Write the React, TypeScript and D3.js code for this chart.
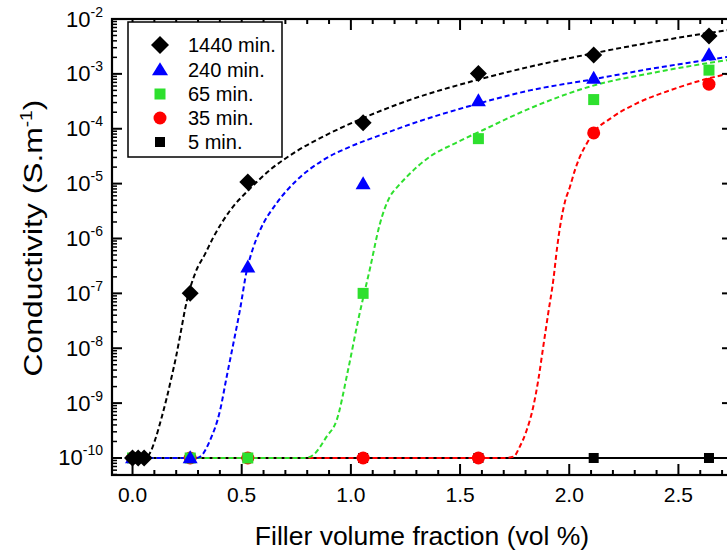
import React from "react";
import * as d3 from "d3";

// ---------- data ----------
const seriesLabels = ["1440 min.", "240 min.", "65 min.", "35 min.", "5 min."];

// measured points
const x1440 = [0, 0.026, 0.053, 0.264, 0.528, 1.056, 1.584, 2.112, 2.64];
const y1440 = [1e-10, 1e-10, 1e-10, 1.0e-7, 1.07e-5, 1.28e-4, 1.02e-3, 2.2e-3, 4.9e-3];
const xMain = [0, 0.264, 0.528, 1.056, 1.584, 2.112, 2.64];
const y240 = [1e-10, 1e-10, 3.0e-7, 9.8e-6, 3.2e-4, 8.2e-4, 2.2e-3];
const y65 = [1e-10, 1e-10, 1e-10, 1.0e-7, 6.6e-5, 3.4e-4, 1.17e-3];
const y35 = [1e-10, 1e-10, 1e-10, 1e-10, 1e-10, 8.4e-5, 6.5e-4];
const y5 = [1e-10, 1e-10, 1e-10, 1e-10, 1e-10, 1e-10, 1e-10];

// fitted (dashed) curves
const fitX1440 = [0, 0.057, 0.08, 0.105, 0.134, 0.157, 0.179, 0.2, 0.217, 0.248, 0.29, 0.332, 0.37, 0.446, 0.538, 0.63, 0.752, 0.904, 1.042, 1.284, 1.559, 1.82, 2.103, 2.383, 2.75];
const fitY1440 = [1e-10, 1e-10, 1.23e-10, 2.24e-10, 5.6e-10, 1.26e-9, 3.0e-9, 7.2e-9, 1.62e-8, 7.1e-8, 2.5e-7, 5.2e-7, 1.05e-6, 3.2e-6, 8.1e-6, 1.78e-5, 3.9e-5, 8.3e-5, 1.48e-4, 3.5e-4, 7.4e-4, 1.35e-3, 2.34e-3, 3.8e-3, 6.5e-3];
const fitX240 = [0, 0.29, 0.309, 0.355, 0.401, 0.431, 0.462, 0.492, 0.523, 0.55, 0.584, 0.66, 0.752, 0.874, 0.996, 1.133, 1.286, 1.545, 1.82, 2.103, 2.385, 2.75];
const fitY240 = [1e-10, 1e-10, 1.05e-10, 2.1e-10, 7.4e-10, 3.0e-9, 1.23e-8, 5.0e-8, 2.6e-7, 6.3e-7, 1.41e-6, 4.4e-6, 1.15e-5, 2.7e-5, 4.7e-5, 7.6e-5, 1.26e-4, 2.6e-4, 5.0e-4, 7.9e-4, 1.26e-3, 2.1e-3];
const fitX65 = [0, 0.79, 0.826, 0.889, 0.935, 0.987, 1.033, 1.088, 1.133, 1.156, 1.179, 1.216, 1.255, 1.307, 1.362, 1.484, 1.606, 1.82, 2.103, 2.385, 2.75];
const fitY65 = [1e-10, 1e-10, 1.12e-10, 2.45e-10, 4.9e-10, 4.0e-9, 3.2e-8, 2.9e-7, 1.86e-6, 3.6e-6, 5.8e-6, 9.0e-6, 1.32e-5, 2.08e-5, 3.1e-5, 5.6e-5, 9.5e-5, 2.35e-4, 6.0e-4, 1.05e-3, 1.85e-3];
const fitX35 = [0, 1.70, 1.744, 1.774, 1.805, 1.835, 1.858, 1.881, 1.904, 1.927, 1.945, 1.959, 1.98, 2.003, 2.026, 2.049, 2.076, 2.103, 2.201, 2.309, 2.461, 2.614, 2.75];
const fitY35 = [1e-10, 1e-10, 1.05e-10, 1.62e-10, 3.2e-10, 8.5e-10, 2.6e-9, 1.07e-8, 4.4e-8, 1.74e-7, 7.1e-7, 1.74e-6, 4.6e-6, 8.7e-6, 1.76e-5, 3.1e-5, 5.0e-5, 7.6e-5, 1.66e-4, 2.9e-4, 5.0e-4, 7.8e-4, 1.05e-3];
const baseX = [0, 2.75];
const baseY = [1e-10, 1e-10];

const xMajorTicks = [0, 0.5, 1.0, 1.5, 2.0, 2.5];
const xTickLabels = ["0.0", "0.5", "1.0", "1.5", "2.0", "2.5"];
const xMinorTicks = [0.1, 0.2, 0.3, 0.4, 0.6, 0.7, 0.8, 0.9, 1.1, 1.2, 1.3, 1.4, 1.6, 1.7, 1.8, 1.9, 2.1, 2.2, 2.3, 2.4, 2.6, 2.7];
const yExponents = [-2, -3, -4, -5, -6, -7, -8, -9, -10];

const FONT = "'Liberation Sans', Arial, Helvetica, sans-serif";
const GREEN = "#2ee02e";
const BLUE = "#0000ff";
const RED = "#ff0000";

export default function App() {
  const W = 727, H = 555;
  const left = 112, top = 19, right = 733, bottom = 475;
  const x = d3.scaleLinear().domain([-0.094, 2.75]).range([left, right]);
  const y = d3.scaleLog().domain([Math.pow(10, -10.31), 1e-2]).range([bottom, top]);

  const line = d3
    .line<[number, number]>()
    .x((d) => x(d[0]))
    .y((d) => y(d[1]))
    .curve(d3.curveMonotoneX);
  const zip = (a: number[], b: number[]) => a.map((v, i) => [v, b[i]] as [number, number]);

  const yMinor: number[] = [];
  for (let e = -11; e <= -3; e++) {
    for (let k = 2; k <= 9; k++) {
      const v = k * Math.pow(10, e);
      if (v > Math.pow(10, -10.31) && v < 1e-2) yMinor.push(v);
    }
  }

  const diamond = (cx: number, cy: number, r: number, key?: any) => (
    <path key={key} d={`M${cx},${cy - r}L${cx + r},${cy}L${cx},${cy + r}L${cx - r},${cy}Z`} fill="#000" />
  );
  const triangle = (cx: number, cy: number, w: number, h: number, key?: any) => (
    <path key={key} d={`M${cx},${cy - h * 0.6}L${cx + w / 2},${cy + h * 0.4}L${cx - w / 2},${cy + h * 0.4}Z`} fill={BLUE} />
  );
  const square = (cx: number, cy: number, s: number, fill: string, key?: any) => (
    <rect key={key} x={cx - s / 2} y={cy - s / 2} width={s} height={s} fill={fill} />
  );

  const dash = "5,3";
  const legendY = [45, 70, 94, 118, 142];

  return (
    <svg width={W} height={H} style={{ position: "absolute", left: 0, top: 0, background: "#fff" }} fontFamily={FONT}>
      <defs>
        <clipPath id="plotclip">
          <rect x={left} y={top} width={right - left} height={bottom - top} />
        </clipPath>
      </defs>
      <rect x={0} y={0} width={W} height={H} fill="#fff" />

      <g clipPath="url(#plotclip)">
        <path d={line(zip(baseX, baseY)) || ""} fill="none" stroke="#000" strokeWidth={2} />
        <path d={line(zip(fitX35, fitY35)) || ""} fill="none" stroke={RED} strokeWidth={2} strokeDasharray={dash} />
        <path d={line(zip(fitX65, fitY65)) || ""} fill="none" stroke={GREEN} strokeWidth={2} strokeDasharray={dash} />
        <path d={line(zip(fitX240, fitY240)) || ""} fill="none" stroke={BLUE} strokeWidth={2} strokeDasharray={dash} />
        <path d={line(zip(fitX1440, fitY1440)) || ""} fill="none" stroke="#000" strokeWidth={2} strokeDasharray={dash} />

        {xMain.map((v, i) => square(x(v), y(y5[i]), 10, "#000", "s5" + i))}
        {xMain.map((v, i) => (
          <circle key={"c35" + i} cx={x(v)} cy={y(y35[i])} r={6.5} fill={RED} />
        ))}
        {xMain.map((v, i) => square(x(v), y(y65[i]), 11, GREEN, "s65" + i))}
        {xMain.map((v, i) => triangle(x(v), y(y240[i]), 15, 13, "t" + i))}
        {x1440.map((v, i) => diamond(x(v), y(y1440[i]), 8.5, "d" + i))}
      </g>

      {/* frame */}
      <rect x={left} y={top} width={right - left} height={bottom - top} fill="none" stroke="#000" strokeWidth={2.2} />

      {/* x ticks bottom/top */}
      {xMajorTicks.map((v) => (
        <g key={"xm" + v}>
          <line x1={x(v)} x2={x(v)} y1={bottom} y2={bottom - 11} stroke="#000" strokeWidth={2} />
          <line x1={x(v)} x2={x(v)} y1={top} y2={top + 11} stroke="#000" strokeWidth={2} />
        </g>
      ))}
      {xMinorTicks.map((v) => (
        <g key={"xn" + v}>
          <line x1={x(v)} x2={x(v)} y1={bottom} y2={bottom - 5} stroke="#000" strokeWidth={2} />
          <line x1={x(v)} x2={x(v)} y1={top} y2={top + 5} stroke="#000" strokeWidth={2} />
        </g>
      ))}
      {xMajorTicks.map((v, i) => (
        <text key={"xl" + v} x={x(v)} y={502} textAnchor="middle" fontSize={21} fill="#000">
          {xTickLabels[i]}
        </text>
      ))}

      {/* y ticks left/right */}
      {yExponents.map((e) => {
        const v = Math.pow(10, e);
        return (
          <g key={"ym" + e}>
            <line x1={left} x2={left + 10} y1={y(v)} y2={y(v)} stroke="#000" strokeWidth={2} />
            <line x1={right} x2={right - 11} y1={y(v)} y2={y(v)} stroke="#000" strokeWidth={2} />
          </g>
        );
      })}
      {yMinor.map((v, i) => (
        <g key={"yn" + i}>
          <line x1={left} x2={left + 5} y1={y(v)} y2={y(v)} stroke="#000" strokeWidth={1.5} />
          <line x1={right} x2={right - 5} y1={y(v)} y2={y(v)} stroke="#000" strokeWidth={1.5} />
        </g>
      ))}
      {yExponents.map((e) => {
        const v = Math.pow(10, e);
        return (
          <text key={"yl" + e} x={103} y={y(v) + 7.5} textAnchor="end" fontSize={22} fill="#000">
            <tspan>10</tspan>
            <tspan dy={-10} fontSize={14}>{String(e)}</tspan>
          </text>
        );
      })}

      {/* axis titles */}
      <text x={422} y={545} textAnchor="middle" fontSize={26.5} fill="#000">
        Filler volume fraction (vol %)
      </text>
      <text transform={`translate(42,238) rotate(-90) scale(1.2,1)`} textAnchor="middle" fontSize={26.5} fill="#000">
        <tspan>Conductivity (S.m</tspan>
        <tspan dy={-10} fontSize={16}>-1</tspan>
        <tspan dy={10}>)</tspan>
      </text>

      {/* legend */}
      <rect x={128} y={22} width={154} height={135} fill="#fff" stroke="#000" strokeWidth={1.5} />
      {diamond(160, legendY[0], 9)}
      {triangle(160, legendY[1], 16, 13)}
      {square(160, legendY[2], 11, GREEN)}
      <circle cx={160} cy={legendY[3]} r={6.5} fill={RED} />
      {square(160, legendY[4], 10, "#000")}
      {seriesLabels.map((s, i) => (
        <text key={s} x={188} y={legendY[i] + 7} fontSize={20} fill="#000">
          {s}
        </text>
      ))}
    </svg>
  );
}
